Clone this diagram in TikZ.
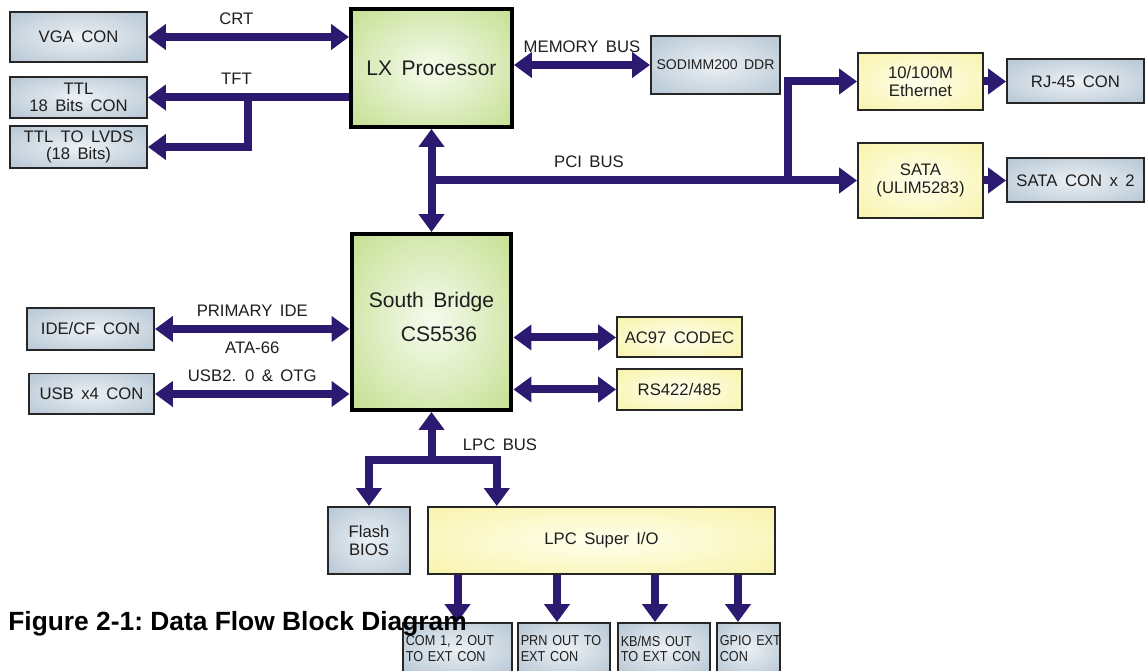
\documentclass[tikz,border=0pt]{standalone}
\usepackage{fontspec}
\setmainfont{Liberation Sans}[WordSpace=1.6]
\newfontfamily\narrowfont{Liberation Sans}[FakeStretch=0.88, WordSpace=1.5]
\newfontfamily\capfont{Liberation Sans}
\usepackage{xcolor}
\usetikzlibrary{arrows.meta, positioning, calc}

\definecolor{busblue}{RGB}{44,26,112}
\definecolor{conedge}{RGB}{160,181,198}
\definecolor{conmid}{RGB}{236,241,245}
\definecolor{chipedge}{RGB}{176,212,108}
\definecolor{chipmid}{RGB}{246,251,238}
\definecolor{ioedge}{RGB}{246,238,146}
\definecolor{iomid}{RGB}{255,255,236}
\definecolor{txt}{RGB}{30,30,30}

\pgfdeclareradialshading{congrad}{\pgfpointorigin}{color(0bp)=(conmid); color(50bp)=(conedge)}
\pgfdeclareradialshading{chipgrad}{\pgfpointorigin}{color(0bp)=(chipmid); color(50bp)=(chipedge)}
\pgfdeclareradialshading{iograd}{\pgfpointorigin}{color(0bp)=(iomid); color(50bp)=(ioedge)}

\newcommand{\fs}[1]{\fontsize{#1}{#1}\selectfont}

\begin{document}
\begin{tikzpicture}[
    x=0.02cm, y=-0.02cm,
    >={Triangle[width=0.5cm,length=0.36cm]},
    con/.style={draw=black!85, line width=0.04cm, shade, shading=congrad, align=center, text=txt, font=\fs{9.5}, inner sep=1pt},
    ext/.style={con, font=\narrowfont\fontsize{8.2}{8.6}\selectfont, align=left, inner sep=1.5pt, minimum height=1.02cm},
    chip/.style={draw=black, line width=0.08cm, shade, shading=chipgrad, align=center, text=txt, font=\fontsize{12}{15}\selectfont},
    ctrl/.style={draw=black!85, line width=0.04cm, shade, shading=iograd, align=center, text=txt, font=\fs{9.5}, inner sep=1pt},
    bus/.style={draw=busblue, line width=0.16cm},
    lbl/.style={font=\fs{9.5}, text=txt, inner sep=1pt}
]
\useasboundingbox (0,0) rectangle (1146,671);

% display side
\node[con, minimum width=2.74cm, minimum height=1.00cm] (vga) at (78.5,37) {VGA CON};
\node[con, minimum width=2.74cm, minimum height=0.82cm] (ttl) at (78.5,97.5) {TTL\\18 Bits CON};
\node[con, minimum width=2.74cm, minimum height=0.84cm] (lvds) at (78.5,147) {TTL TO LVDS\\(18 Bits)};

% chips
\node[chip, minimum width=3.22cm, minimum height=2.36cm] (lx) at (431.5,68) {LX Processor};
\node[chip, minimum width=3.20cm, minimum height=3.52cm] (sb) at (431.5,322) {South Bridge\\[4pt]\hspace*{0.3cm}CS5536\\[-9pt]\mbox{}};

\node[con, font=\fs{8}, minimum width=2.58cm, minimum height=1.16cm] (ddr) at (715.5,65) {SODIMM200 DDR};

% pci devices
\node[ctrl, minimum width=2.50cm, minimum height=1.14cm, font=\fontsize{9.5}{10.5}\selectfont] (eth) at (920.5,81.5) {10/100M\\Ethernet};
\node[ctrl, minimum width=2.50cm, minimum height=1.50cm, font=\fontsize{9.5}{10.5}\selectfont] (sata) at (920.5,180.5) {SATA\\(ULIM5283)};
\node[con, minimum width=2.74cm, minimum height=0.88cm] (rj) at (1075.5,81.5) {RJ-45 CON};
\node[con, minimum width=2.74cm, minimum height=0.88cm] (satacon) at (1075.5,180.5) {SATA CON x 2};

% south bridge side
\node[con, minimum width=2.54cm, minimum height=0.84cm] (ide) at (90.5,329) {IDE/CF CON};
\node[con, minimum width=2.50cm, minimum height=0.82cm] (usb) at (91.5,394) {USB x4 CON};
\node[ctrl, minimum width=2.50cm, minimum height=0.80cm] (ac97) at (679.5,337.5) {AC97 CODEC};
\node[ctrl, minimum width=2.50cm, minimum height=0.82cm] (rs) at (679.5,389.5) {RS422/485};

% lpc side
\node[con, font=\fontsize{9.5}{10}\selectfont, minimum width=1.64cm, minimum height=1.34cm] (flash) at (369,540.5) {Flash\\BIOS};
\node[ctrl, minimum width=6.94cm, minimum height=1.34cm] (sio) at (601.5,540.5) {LPC Super I/O};

\node[ext, text width=2.07cm] (com) at (457.5,648.5) {COM 1, 2 OUT\\TO EXT CON};
\node[ext, text width=1.73cm] (prn) at (564,648.5) {PRN~OUT~TO\\EXT CON};
\node[ext, text width=1.73cm] (kb) at (664,648.5) {KB/MS OUT\\TO~EXT~CON};
\node[ext, text width=1.15cm] (gpio) at (748.5,648.5) {GPIO~EXT\\CON};

% buses
\draw[bus, <->] (vga) -- node[lbl, above=4pt, pos=0.44] (crt) {CRT} (lx.west |- vga);
\draw[bus, ->] (lx.west |- ttl) -- node[lbl, above=4pt, pos=0.56] (tft) {TFT} (ttl);
\coordinate (tftj) at (248,97.5);
\draw[bus, ->] (tftj) |- (lvds);

\draw[bus, <->] (lx.east |- ddr) -- node[lbl, above=4pt] (mem) {MEMORY BUS} (ddr);
\draw[bus, <->] (lx) -- (sb);

\coordinate (pcij) at (lx.south |- sata);
\draw[bus, ->] (pcij) -- node[lbl, above=4pt, pos=0.37] (pci) {PCI BUS} (sata);
\coordinate (ethj) at (788,180.5);
\draw[bus, ->] (ethj) |- (eth);
\draw[bus, ->] (eth) -- (rj);
\draw[bus, ->] (sata) -- (satacon);

\draw[bus, <->] (ide) -- node[lbl, above=4pt] (pide) {PRIMARY IDE} node[lbl, below=4pt] (ata) {ATA-66} (ide -| sb.west);
\draw[bus, <->] (usb) -- node[lbl, above=4pt] (usbl) {USB2. 0 \& OTG} (usb -| sb.west);
\draw[bus, <->] (sb.east |- ac97) -- (ac97);
\draw[bus, <->] (sb.east |- rs) -- (rs);

\coordinate (lpcj) at (431.5,460);
\draw[bus, ->] (lpcj) -- (sb);
\draw[bus, ->] (lpcj) -| (flash);
\draw[bus, ->] (lpcj) -| ($(sio.north west)!0.2!(sio.north east)$);
\node[lbl] (lpcl) at (500,445) {LPC BUS};

\foreach \t/\d in {com/0, prn/-7, kb/-9, gpio/-10.5}{
  \coordinate (\t top) at ([xshift=\d*0.02cm]\t.north);
  \draw[bus, ->] (sio.south -| \t top) -- (\t top);
}

\node[font=\capfont\bfseries\frenchspacing\fs{15}, anchor=west, inner sep=0pt] (cap) at (8,624) {Figure 2-1: Data Flow Block Diagram};
\end{tikzpicture}
\end{document}
